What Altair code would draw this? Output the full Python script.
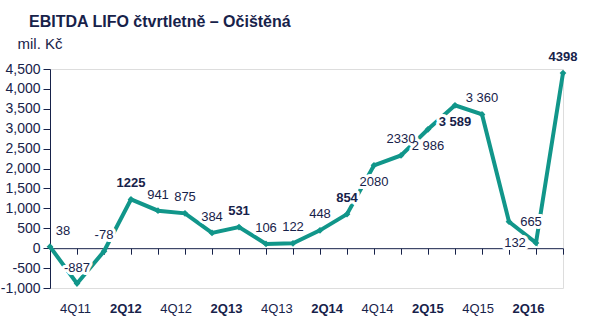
import altair as alt
import pandas as pd

quarters = ["3Q11", "4Q11", "1Q12", "2Q12", "3Q12", "4Q12", "1Q13", "2Q13", "3Q13", "4Q13",
            "1Q14", "2Q14", "3Q14", "4Q14", "1Q15", "2Q15", "3Q15", "4Q15", "1Q16", "2Q16"]
values = [38, -887, -78, 1225, 941, 875, 384, 531, 106, 122,
          448, 854, 2080, 2330, 2986, 3589, 3360, 665, 132, 4398]
value_labels = ["38", "-887", "-78", "1225", "941", "875", "384", "531", "106", "122",
                "448", "854", "2080", "2330", "2 986", "3 589", "3 360", "665", "132", "4398"]
axis_labels = ["4Q11", "2Q12", "4Q12", "2Q13", "4Q13", "2Q14", "4Q14", "2Q15", "4Q15", "2Q16"]
y_ticks = [-1000, -500, 0, 500, 1000, 1500, 2000, 2500, 3000, 3500, 4000, 4500]

# label placement (style), default "above"
placement = {"3Q11": "aboveright", "3Q14": "below", "1Q15": "below", "2Q15": "below",
             "4Q15": "right", "1Q16": "left"}
offsets = {"above": (0, -16), "aboveright": (13, -16), "below": (0, 17),
           "right": (22, 0), "left": (-21, 0)}

TEAL = "#11968a"
NAVY = "#17224a"
FONT = "Liberation Sans"
W, H = 513, 219
YMIN, YMAX = -1000, 4500

df = pd.DataFrame({
    "quarter": quarters,
    "value": values,
    "label": value_labels,
})
df["bold"] = [q.startswith("2Q") for q in quarters]
df["pos"] = [placement.get(q, "above") for q in quarters]

lab_df = pd.DataFrame({"lab": axis_labels})

x_enc = alt.X("quarter:O", sort=quarters,
              scale=alt.Scale(type="point", padding=0, domain=quarters),
              axis=alt.Axis(labels=False, title=None, tickSize=6, tickColor=NAVY,
                            domainColor=NAVY, tickWidth=1, domainWidth=1,
                            offset=-H * (0 - YMIN) / (YMAX - YMIN), grid=False,
                            orient="bottom"))
y_enc = alt.Y("value:Q",
              scale=alt.Scale(domain=[YMIN, YMAX], nice=False, zero=False),
              axis=alt.Axis(values=y_ticks, title="mil. Kč", titleAngle=0, titleAlign="left",
                            titleBaseline="middle", titleX=-33, titleY=-26,
                            titleFont=FONT, titleFontSize=15, titleFontWeight="normal",
                            titleColor=NAVY,
                            grid=False, tickSize=7,
                            tickColor=NAVY, domainColor=NAVY, labelColor=NAVY,
                            labelFont=FONT, labelFontSize=14, labelPadding=3,
                            labelOverlap=False, labelBound=False,
                            labelExpr="datum.value < 0 ? '-' + format(-datum.value, ',') : format(datum.value, ',')"))

base = alt.Chart(df)
line = base.mark_line(color=TEAL, strokeWidth=4).encode(x=x_enc, y=y_enc)
pts = base.mark_point(shape="diamond", filled=True, color=TEAL, size=45, opacity=1).encode(
    x=x_enc, y=y_enc)

halos = []
texts = []
for pos, (dx, dy) in offsets.items():
    for b in (False, True):
        filt = f"datum.pos == '{pos}' && datum.bold == {'true' if b else 'false'}"
        kw = dict(font=FONT, fontSize=13, fontWeight="bold" if b else "normal",
                  dx=dx, dy=dy, align="center", baseline="middle")
        halos.append(base.transform_filter(filt).mark_text(
            color="white", stroke="white", strokeWidth=6, strokeJoin="round", **kw).encode(
            x=x_enc, y=y_enc, text="label:N"))
        texts.append(base.transform_filter(filt).mark_text(color=NAVY, **kw).encode(
            x=x_enc, y=y_enc, text="label:N"))

inner = alt.layer(line, pts, *halos, *texts)

lab_layer = alt.Chart(lab_df).mark_point(opacity=0).encode(
    x=alt.X("lab:O", sort=axis_labels,
            scale=alt.Scale(type="point", padding=0.596, align=0.417),
            axis=alt.Axis(orient="bottom", title=None, domain=False, ticks=False, tickSize=0,
                          labelPadding=14, labelFont=FONT, labelFontSize=13, labelColor=NAVY,
                          labelAngle=0,
                          labelFontWeight={"condition": {"test": "indexof(datum.label, '2Q') == 0",
                                                         "value": "bold"},
                                           "value": "normal"})),
    y=alt.value(0))

chart = alt.layer(inner, lab_layer).resolve_scale(x="independent").properties(
    width=W, height=H,
    autosize=alt.AutoSizeParams(type="none"),
    padding={"left": 50, "top": 69, "right": 27, "bottom": 38},
    title=alt.TitleParams(text="EBITDA LIFO čtvrtletně – Očištěná",
                          anchor="start", frame="group", dx=-21, offset=6,
                          font=FONT, fontSize=16, fontWeight="bold", color=NAVY),
).configure_view(stroke=None).configure(background="white")

chart.save("out.html", embed_options={"renderer": "svg", "actions": False})
